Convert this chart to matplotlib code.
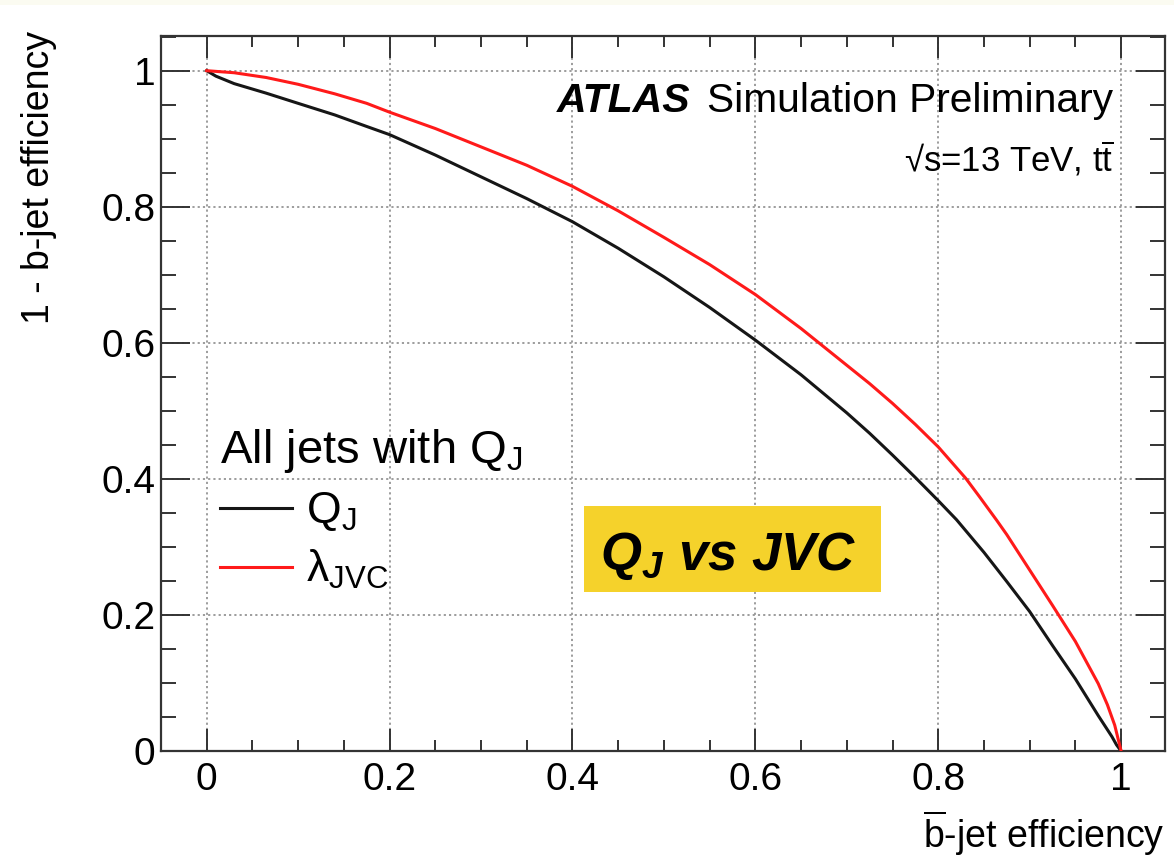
import matplotlib
matplotlib.use("Agg")
import matplotlib.pyplot as plt
from matplotlib.lines import Line2D
from matplotlib.patches import Rectangle
from matplotlib.ticker import MultipleLocator, FixedLocator

# ---- data ----
qj_eff = [0.0, 0.01, 0.03, 0.065, 0.1, 0.14, 0.175, 0.2, 0.25, 0.3, 0.35, 0.4,
          0.45, 0.5, 0.55, 0.6, 0.65, 0.7, 0.725, 0.75, 0.775, 0.8, 0.82, 0.85,
          0.875, 0.9, 0.925, 0.95, 0.975, 0.99, 0.995, 1.0]
qj_rej = [1.0, 0.992, 0.981, 0.967, 0.952, 0.935, 0.918, 0.906, 0.876, 0.844,
          0.812, 0.778, 0.739, 0.697, 0.652, 0.604, 0.553, 0.497, 0.467, 0.435,
          0.402, 0.368, 0.340, 0.292, 0.249, 0.205, 0.155, 0.106, 0.052, 0.021,
          0.009, 0.0]
jvc_eff = [0.0, 0.03, 0.065, 0.1, 0.14, 0.175, 0.2, 0.25, 0.3, 0.35, 0.4, 0.45,
           0.5, 0.55, 0.6, 0.65, 0.7, 0.725, 0.75, 0.775, 0.8, 0.83, 0.845,
           0.864, 0.875, 0.9, 0.925, 0.95, 0.975, 0.985, 0.993, 1.0]
jvc_rej = [1.0, 0.997, 0.990, 0.980, 0.966, 0.952, 0.939, 0.915, 0.888, 0.861,
           0.830, 0.794, 0.755, 0.715, 0.671, 0.621, 0.567, 0.540, 0.511, 0.480,
           0.447, 0.401, 0.374, 0.339, 0.318, 0.266, 0.214, 0.161, 0.099, 0.068,
           0.038, 0.0]
major_ticks = [0, 0.2, 0.4, 0.6, 0.8, 1.0]
tick_labels = ["0", "0.2", "0.4", "0.6", "0.8", "1"]
series_labels = [r"$Q_J$", r"$\lambda_{JVC}$"]
legend_title = r"All jets with $Q_J$"

plt.rcParams["font.family"] = ["Liberation Sans", "DejaVu Sans"]
plt.rcParams["mathtext.fontset"] = "custom"
plt.rcParams["mathtext.rm"] = "Liberation Sans"
plt.rcParams["mathtext.it"] = "Liberation Sans:italic"
plt.rcParams["mathtext.bf"] = "Liberation Sans:bold"
plt.rcParams["mathtext.bfit"] = "Liberation Sans:italic:bold"
plt.rcParams["mathtext.sf"] = "Liberation Sans"
plt.rcParams["mathtext.default"] = "regular"

W, H = 1174, 857
fig = plt.figure(figsize=(W / 100, H / 100), dpi=100)

def fx(px):
    return px / W

def fy(py):
    return 1 - py / H

# faint top strip
fig.patches.append(Rectangle((0, fy(5)), 1, 1 - fy(5), transform=fig.transFigure,
                             facecolor="#fbfbf1", edgecolor="none", zorder=0))

ax = fig.add_axes([fx(161), fy(751), fx(1165) - fx(161), fy(36) - fy(751)])
ax.set_xlim(-0.05, 1.048)
ax.set_ylim(0, 1.051)

ax.plot(qj_eff, qj_rej, color="#161616", lw=2.2, zorder=3)
ax.plot(jvc_eff, jvc_rej, color="#ff1a1a", lw=2.2, zorder=3)

ax.xaxis.set_major_locator(FixedLocator(major_ticks))
ax.yaxis.set_major_locator(FixedLocator(major_ticks))
ax.set_xticklabels(tick_labels)
ax.set_yticklabels(tick_labels)
ax.xaxis.set_minor_locator(MultipleLocator(0.05))
ax.yaxis.set_minor_locator(MultipleLocator(0.05))

ax.tick_params(axis="both", which="both", direction="in", top=True, right=True,
               color="#333333", width=1.4, labelsize=28, labelcolor="black")
ax.tick_params(axis="x", which="major", length=16, pad=8)
ax.tick_params(axis="x", which="minor", length=8)
ax.tick_params(axis="y", which="major", length=21, pad=4)
ax.tick_params(axis="y", which="minor", length=11)
for s in ax.spines.values():
    s.set_linewidth(1.6)
    s.set_color("#333333")

ax.grid(True, which="major", color="#959595", lw=1.3, linestyle=(0, (1.2, 1.7)), zorder=1)

# axis titles
fig.text(fx(39), fy(31), "1 - b-jet efficiency", rotation=90, ha="center", va="top",
         fontsize=27)
fig.text(fx(1165), fy(848), r"$\overline{b}$-jet efficiency", ha="right",
         va="baseline", fontsize=27)

# ATLAS label
fig.text(fx(1113), fy(112), "Simulation Preliminary", ha="right", va="baseline",
         fontsize=29.3)
fig.text(fx(557), fy(112), "ATLAS", ha="left", va="baseline", fontsize=29.5,
         fontweight="bold", fontstyle="italic")
fig.text(fx(1113), fy(172), "\u221as=13 TeV, t$\\overline{t}$", ha="right",
         va="baseline", fontsize=25)

# legend
handles = [Line2D([], [], color="#161616", lw=2.2),
           Line2D([], [], color="#ff1a1a", lw=2.2)]
leg = ax.legend(handles, series_labels, title=legend_title, loc="upper left",
                bbox_to_anchor=(fx(220), fy(427)), bbox_transform=fig.transFigure,
                frameon=False, fontsize=32, title_fontsize=34, alignment="left",
                handlelength=1.62, handletextpad=0.32, labelspacing=0.34,
                borderpad=0, borderaxespad=0)

# yellow annotation box
fig.patches.append(Rectangle((fx(584), fy(592)), fx(881) - fx(584), fy(506) - fy(592),
                             transform=fig.transFigure, facecolor="#f5d22b",
                             edgecolor="none", zorder=5))
fig.text(fx(600), fy(570), r"$\mathbfit{Q_J\ vs\ JVC}$", ha="left", va="baseline",
         fontsize=38, zorder=6)

fig.savefig("out.png", dpi=100)
